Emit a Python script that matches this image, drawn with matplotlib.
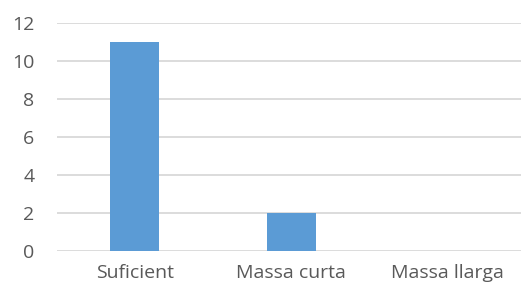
import matplotlib
matplotlib.use('Agg')
import matplotlib.pyplot as plt

# Chart data
categories = ['Suficient', 'Massa curta', 'Massa llarga']
values = [11, 2, 0]
y_ticks = [0, 2, 4, 6, 8, 10, 12]

plt.rcParams['font.family'] = ['Open Sans', 'DejaVu Sans']

fig = plt.figure(figsize=(5.21, 2.94), dpi=100)
ax = fig.add_axes([56.5 / 521, 43 / 294, 469.5 / 521, 228 / 294])

x = range(len(categories))
ax.bar(x, values, width=0.31, color='#5B9BD5', zorder=3)

ax.set_xlim(-0.5, len(categories) - 0.5)
ax.set_ylim(0, 12)
ax.set_yticks(y_ticks)
ax.set_xticks(list(x))
ax.set_xticklabels(categories)

ax.grid(axis='y', color='#D9D9D9', linewidth=1.3, zorder=0)
ax.set_axisbelow(True)
for side in ['top', 'right', 'left', 'bottom']:
    ax.spines[side].set_visible(False)
ax.tick_params(axis='both', length=0, labelsize=14, colors='#595959')
ax.tick_params(axis='y', pad=16)
ax.tick_params(axis='x', pad=9)

fig.savefig('out.png', dpi=100)
